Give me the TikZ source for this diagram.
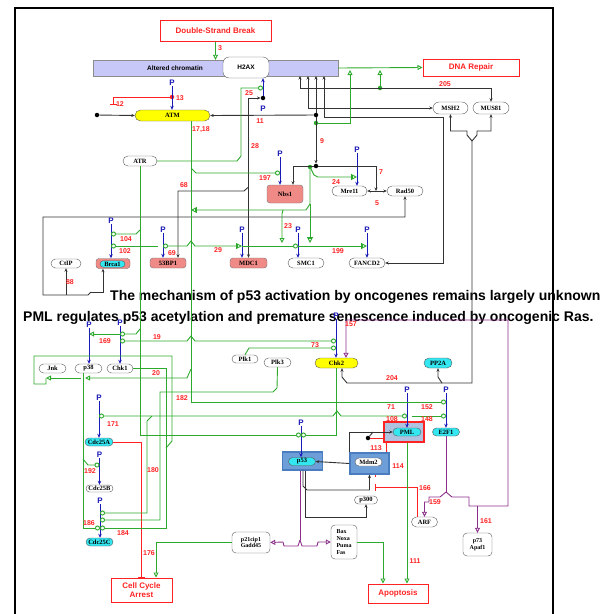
\documentclass[tikz,border=0pt]{standalone}
\usepackage{fontspec}
\setmainfont{Liberation Serif}
\setsansfont{Liberation Sans}
\usetikzlibrary{arrows.meta, shapes.misc, backgrounds}

\definecolor{pgreen}{HTML}{2DAA2D}
\definecolor{pred}{HTML}{FF2222}
\definecolor{pblue}{HTML}{1A1AB8}
\definecolor{pplum}{HTML}{8A2E8A}
\definecolor{ppink}{HTML}{F08A86}
\definecolor{pcyan}{HTML}{33E6F0}
\definecolor{pyellow}{HTML}{FFFF00}
\definecolor{plav}{HTML}{C8C8F8}
\definecolor{pbox}{HTML}{6E9ED8}
\definecolor{pboxd}{HTML}{4A7CC0}
\definecolor{pmlfill}{HTML}{AFC3E0}

\begin{document}
\begin{tikzpicture}[x=1pt, y=-1pt,
  mol/.style={rounded rectangle, draw=black!65, fill=white, inner sep=0pt, minimum height=10pt, font=\fontsize{6.5}{7.5}\selectfont\bfseries},
  molc/.style={mol, fill=pcyan},
  moly/.style={mol, fill=pyellow},
  molp/.style={draw=black!55, fill=ppink, rounded corners=3pt, inner sep=0pt, minimum height=10pt, font=\fontsize{6.5}{7.5}\selectfont\bfseries},
  molr/.style={draw=black!65, fill=white, rounded corners=4pt, inner sep=0pt, align=center, font=\fontsize{6}{6.8}\selectfont\bfseries},
  grp/.style={draw=pboxd, fill=pbox, line width=1.2pt, inner sep=0pt},
  outbox/.style={draw=pred, line width=1pt, text=pred, align=center, inner sep=0pt, font=\sffamily\bfseries\fontsize{8}{9.5}\selectfont},
  caption/.style={inner sep=0pt, anchor=west, font=\sffamily\bfseries\fontsize{14}{16}\selectfont},
  num/.style={text=pred, inner sep=0pt, font=\sffamily\bfseries\fontsize{7}{8}\selectfont},
  plab/.style={text=pblue, inner sep=0.5pt, font=\sffamily\bfseries\fontsize{8}{9}\selectfont},
  bdot/.style={circle, fill=black, inner sep=0pt, minimum size=4.5pt},
  gdot/.style={bdot, fill=pgreen},
  rdot/.style={bdot, fill=pred},
  bline/.style={draw=black!80, line width=0.9pt},
  barr/.style={bline, -{Stealth[length=3.5pt,width=3pt]}},
  bboth/.style={bline, {Stealth[length=3.5pt,width=3pt]}-{Stealth[length=3.5pt,width=3pt]}},
  gline/.style={draw=pgreen, line width=0.9pt},
  gtri/.style={gline, -{Triangle[open,length=5pt,width=5pt]}},
  gbt/.style={gline, -{Bar[width=6pt] Triangle[open,length=5pt,width=5pt]}},
  gcirc/.style={gline, -{Circle[open,length=5pt]}},
  gcc/.style={gline, {Circle[open,length=5pt]}-{Circle[open,length=5pt]}},
  rline/.style={draw=pred, line width=0.9pt},
  rinh/.style={rline, -{Bar[width=7pt]}},
  parr/.style={draw=pblue, line width=1pt, -{Stealth[length=4pt,width=3.5pt]}},
  pline/.style={draw=pplum, line width=0.9pt},
  ptri/.style={pline, -{Triangle[open,length=5pt,width=5pt]}}
]
\useasboundingbox (0,0) rectangle (600,614);
\draw[line width=2pt] (15,614) -- (15,8) -- (553,8) -- (553,614);

% captions
\node[caption] (capa) at (110,297) {The mechanism of p53 activation by oncogenes remains largely unknown};
\node[caption] (capb) at (23,318) {PML regulates p53 acetylation and premature senescence induced by oncogenic Ras.};

% chromatin and outcomes
\node[outbox, minimum width=111pt, minimum height=21pt] (dsb) at (215.5,30.5) {Double-Strand Break};
\node[draw=black!45, fill=plav, minimum width=245pt, minimum height=16pt, inner sep=0pt] (chrom) at (215.5,68) {};
\node[inner sep=0pt, font=\sffamily\bfseries\fontsize{6.5}{7.5}\selectfont] (chromtxt) at (175,68) {Altered chromatin};
\node[draw=black!65, fill=white, rounded corners=6pt, minimum width=46pt, minimum height=21pt, inner sep=0pt, font=\sffamily\bfseries\fontsize{6.5}{7.5}\selectfont] (h2ax) at (246,67.5) {H2AX};
\node[outbox, minimum width=96pt, minimum height=17pt] (repair) at (471,67.5) {DNA Repair};
\node[outbox, minimum width=61pt, minimum height=24pt] (arrest) at (141.5,590) {Cell Cycle\\Arrest};
\node[outbox, minimum width=60pt, minimum height=19pt] (apopt) at (398,593.5) {Apoptosis};

% molecules
\node[moly, minimum width=75pt, minimum height=11pt] (atm) at (172.5,115.5) {ATM};
\node[mol, minimum width=35pt, minimum height=12pt] (msh2) at (450.5,108) {MSH2};
\node[mol, minimum width=36pt, minimum height=12pt] (mus81) at (491,108) {MUS81};
\node[mol, minimum width=34pt] (atr) at (140,161) {ATR};
\node[molp, minimum width=36pt, minimum height=18pt] (nbs1) at (285,194) {Nbs1};
\node[mol, minimum width=35pt] (mre11) at (349.5,191) {Mre11};
\node[mol, minimum width=36pt] (rad50) at (405,191) {Rad50};
\node[mol, minimum width=30pt, minimum height=9pt] (ctip) at (66,263.5) {CtIP};
\node[molp, minimum width=34pt] (brca1) at (113,263.5) {};
\node[molc, minimum width=25pt, minimum height=6.5pt] (brcain) at (112.5,264) {Brca1};
\node[molp, minimum width=36pt] (bpone) at (168,263) {53BP1};
\node[molp, minimum width=37pt] (mdc1) at (248.5,263) {MDC1};
\node[mol, minimum width=36pt] (smc1) at (306,263) {SMC1};
\node[mol, minimum width=36pt] (fancd2) at (367,263) {FANCD2};
\node[mol, minimum width=27pt, minimum height=9pt] (jnk) at (52.5,368.5) {Jnk};
\node[mol, minimum width=27pt, minimum height=9pt] (p38) at (88.5,368.5) {p38};
\node[mol, minimum width=26pt, minimum height=9pt] (chk1) at (120,368.5) {Chk1};
\node[mol, minimum width=26pt, minimum height=8pt] (plk1) at (245,359) {Plk1};
\node[mol, minimum width=27pt, minimum height=9pt] (plk3) at (277.5,362.5) {Plk3};
\node[moly, minimum width=43pt] (chk2) at (336.5,363) {Chk2};
\node[molc, minimum width=28pt] (pp2a) at (438,363) {PP2A};
\node[molc, minimum width=28pt, minimum height=8pt] (cdc25a) at (99,442) {Cdc25A};
\node[mol, minimum width=27pt, minimum height=7pt] (cdc25b) at (99.5,488.5) {Cdc25B};
\node[molc, minimum width=27pt, minimum height=8pt] (cdc25c) at (99.5,542) {Cdc25C};
\node[grp, minimum width=40pt, minimum height=18pt] (p53box) at (302.5,461) {};
\node[molc, minimum width=27pt, minimum height=8pt] (p53) at (302,461.5) {p53};
\node[grp, minimum width=39pt, minimum height=21pt] (mdm2box) at (369.5,463.5) {};
\node[mol, minimum width=27pt, minimum height=8pt] (mdm2) at (368.5,462) {Mdm2};
\node[draw=pred, line width=1.2pt, fill=pmlfill, minimum width=40pt, minimum height=20pt, inner sep=0pt] (pmlbox) at (404,432) {};
\node[molc, minimum width=28pt, minimum height=8pt] (pml) at (407,432) {PML};
\node[molc, minimum width=27pt, minimum height=8pt] (e2f1) at (446,432) {E2F1};
\node[mol, minimum width=23pt, minimum height=8pt] (p300) at (366,500) {p300};
\node[mol, minimum width=26pt] (arf) at (424.5,522) {ARF};
\node[molr, minimum width=29pt, minimum height=23pt] (p73) at (477.5,544.5) {p73\\Apaf1};
\node[molr, minimum width=38pt, minimum height=21pt] (p21) at (251,542.5) {p21cip1\\Gadd45};
\node[molr, minimum width=26pt, minimum height=34pt, align=left] (bax) at (344,542) {Bax\\Noxa\\Puma\\Fas};

% junctions
\coordinate (c300) at (300,76);
\coordinate (c308) at (308,76);
\coordinate (c316) at (316,76);
\coordinate (c324) at (324,76);
\node[bdot] (j115) at (316,115) {};
\node[bdot] (jatm) at (97,115) {};
\node[bdot] (jh2) at (263,98) {};
\node[bdot] (j166) at (316,166) {};
\node[gdot] (g123) at (316,123) {};
\node[gdot] (g88) at (380,88) {};
\node[gdot] (g167) at (310,167) {};
\node[rdot] (j13) at (172,97) {};
\node[bdot] (jml) at (368,438) {};
\coordinate (fork) at (472,141);
\coordinate (ef) at (446,492);
\coordinate (pf) at (300,540);
\coordinate (j5) at (376,191);
\coordinate (j68) at (248.5,187);
\coordinate (j88) at (91,292);
\coordinate (j88b) at (66,295);
\coordinate (rp1) at (350,70);
\coordinate (rp2) at (380,70);
\coordinate (h2c) at (263,88);

% phosphorylation
\node[plab] (pAtm) at (172,83) {P};
\node[plab] (pH2) at (263,109) {P};
\node[plab] (pNbs) at (280,154) {P};
\node[plab] (pMre) at (357,150) {P};
\node[plab] (pBrca) at (111,221) {P};
\node[plab] (pBp) at (163,230) {P};
\node[plab] (pMdc) at (242,230) {P};
\node[plab] (pSmc) at (298,230) {P};
\node[plab] (pFan) at (367,230) {P};
\node[plab] (pP38) at (89,325) {P};
\node[plab] (pChkA) at (120,323) {P};
\node[plab] (pChkB) at (336,316) {P};
\node[plab] (pCdcA) at (99,398) {P};
\node[plab] (pCdcB) at (99.5,455) {P};
\node[plab] (pCdcC) at (100,501) {P};
\node[plab] (pP53) at (301,423) {P};
\node[plab] (pPml) at (407,390) {P};
\node[plab] (pE2f) at (446,390) {P};
\draw[parr] (pAtm) -- (pAtm |- atm.north);
\draw[parr] (jh2) -- (jh2 |- h2ax.south);
\draw[parr] (pNbs) -- (pNbs |- nbs1.north);
\draw[parr] (pMre) -- (pMre |- mre11.north);
\draw[parr] (pBrca) -- (pBrca |- brca1.north);
\draw[parr] (pBp) -- (pBp |- bpone.north);
\draw[parr] (pMdc) -- (pMdc |- mdc1.north);
\draw[parr] (pSmc) -- (pSmc |- smc1.north);
\draw[parr] (pFan) -- (pFan |- fancd2.north);
\draw[parr] (pP38) -- (pP38 |- p38.north);
\draw[parr] (pChkA) -- (pChkA |- chk1.north);
\draw[parr] (pChkB) -- (pChkB |- chk2.north);
\draw[parr] (pCdcA) -- (pCdcA |- cdc25a.north);
\draw[parr] (pCdcB) -- (pCdcB |- cdc25b.north);
\draw[parr] (pCdcC) -- (pCdcC |- cdc25c.north);
\draw[parr] (pP53) -- (pP53 |- p53.north);
\draw[parr] (pPml) -- (pPml |- pml.north);
\draw[parr] (pE2f) -- (pE2f |- e2f1.north);

% black links
\draw[bboth] (c300) -- (300,88) -| (mus81.north);
\draw[bboth] (c308) |- (msh2.west);
\draw[barr] (j115) -- (c316);
\draw[barr] (j115) -- (atm.east);
\draw[barr] (jatm) -- (atm.west);
\draw[barr] (j115) -- (j166);
\draw[bboth] (c324) -- (324,117) -- (443,117) |- (fancd2.east);
\draw[barr] (fork) -- (467,135) -- (467,131) -| (msh2.south);
\draw[barr] (fork) -- (477,135) -- (477,131) -| (mus81.south);
\draw[barr] (fork) -- (472,383) -- (442,383) -- (438,377) -- (pp2a.south);
\draw[barr] (442,383) -- (347,383) -- (342,377) -- ([xshift=5.5pt]chk2.south);
\draw[bboth] (mdc1.north) |- (jh2);
\draw[barr] (j68) -- (244,191) -| ([xshift=10pt]bpone.north);
\draw[barr] (j166) -| ([xshift=8pt]nbs1.north);
\draw[barr] (j166) -| (j5);
\draw[bboth] (mre11.east) -- (rad50.west);
\draw[barr] (j88) -- (88,295) -- (43,295) -- (43,217) -| (rad50.south);
\draw[barr] (j88) -| ([xshift=-10pt]brca1.south);
\draw[barr] (j88b) -- (j88b |- ctip.south);
\draw[barr] (mdm2box.west) -- (p53.east);
\draw[barr] (mdm2box.north west) |- (pml.west);
\draw[bline] (jml) -- ++(5,-6);
\draw[barr] ([xshift=0.5pt]p53box.south) -- (303,486) -- (307,490) -| (mdm2box.south);
\draw[barr] ([xshift=2.5pt]p53box.south) -- (305,517) -| (p300.south);

% red links
\draw[rinh] (j13) -| (113,105);
\draw[rline] (jml) -- (pmlbox.west |- jml);
\begin{scope}[on background layer]
\draw[rinh] ([xshift=3pt]pmlbox.south west) -- (387,473) -- (375,473);
\end{scope}
\draw[rinh] ([xshift=-7.5pt]arf.north) |- (375,487);
\draw[rinh] (cdc25a.east) -| (arrest.north);

% green links
\draw[gtri] (dsb.south) -- (dsb.south |- chrom.north);
\draw[gtri] (chrom.east) -- (repair.west);
\draw[gtri] (g123) -- (350,123) -- (rp1);
\draw[gtri] (g88) -- (rp2);
\draw[gcirc] (atr.east) -- (237,161) -- (241,156) -- (241,88) -- (h2c);
\draw[gcirc] ([xshift=18.5pt]atm.south) -- (191,402) -- (446,402);
\draw[gcirc] (191,168) -- (196,173) -- (280,173);
\draw[gtri] (191,369) -- (187,378) -- (85,378);
\draw[gtri] (81,378) -- (46,378);
\draw[gcirc] (atr.south) -- (140,435) -- (301,435);
\draw[gcirc] (140,230) -- (136,234) -- (111,234);
\draw[gcirc] (140,329) -- (136,334) -- (120,334);
\draw[gcirc] (158,246) -- (111,246);
\draw[gline, {Circle[open,length=5pt]}-{Bar[width=6pt] Triangle[open,length=5pt,width=5pt]}] (163,246) -- (187,246) -- (191,241) -- (195,246) -- (242,246);
\draw[gcirc] (242,246) -- (298,246);
\draw[gbt] (298,246) -- (367,246);
\draw[gline, -{Bar[width=6pt] Triangle[open,length=5pt,width=5pt]}] (g167) -- (310,204) -- (306,210) -- (191,210);
\draw[gtri] (283,210) -- (282,214) -- (282,243);
\draw[gbt] (310,204) -- (310,243);
\draw[gbt] (g167) -- (314,175) -- (318,177) -- (357,177);
\draw[gcc] (120,341) -- (187,341) -- (191,336) -- (195,341) -- (336,341);
\draw[gcirc] (plk1.north) -- (249,348) -- (336,348);
\draw[gtri] (120,334) -- (89,334);
\draw[gline] (46,378) -- (46,384) -- (34,384) -- (34,356) -- (172,356) -- (172,441) -- (166,448);
\draw[gcirc] (chk1.east) -| (166,528) -- (100,528);
\draw[gcirc] ([xshift=-5.5pt]p38.south) -- (83,528) -- (100,528);
\draw[gcirc] (83,459) -- (88,465) -- (99.5,465);
\draw[gcc] (99,416) -- (333,416) -- (337,411) -- (341,416) -- (407,416);
\draw[gcirc] (152,416) -- (147,421) -- (147,513) -- (100,513);
\draw[gcirc] (plk3.south) -- (277,388) -- (273,392) -- (160,392) -- (160,520) -- (100,520);
\draw[gcirc] (412,416) -- (446,416);
\draw[gcirc] (chk2.south) -- (336.5,435) -- (301,435);
\draw[gtri] (bax.east) -| ([xshift=-15pt]apopt.north);
\draw[gtri] (pml.south |- pmlbox.south) -- (pml.south |- apopt.north);
\draw[gtri] (p21.west) -| ([xshift=14.5pt]arrest.north);

% purple links
\draw[pline] ([xshift=-2.5pt]p53box.south) -- (pf);
\draw[ptri] (pf) -- (298,546) -- (284,546) -- (283,542) -- (p21.east);
\draw[ptri] (pf) -- (302,546) -- (317,546) -- (318,542) -- (bax.west);
\draw[pline] (e2f1.south) -- (ef);
\draw[ptri] (ef) -- (440,497) -- (429,497) -- (429,502) -- (424.5,502) -- (arf.north);
\draw[ptri] (ef) -- (452,497) -- (469,497) -- (469,506) -- (508,506) -- (508,320) -- (346,320) -- ([xshift=9.5pt]chk2.north);
\draw[ptri] (477.5,506) -- (p73.north);

% reaction numbers
\node[num] (n3) at (220,48) {3};
\node[num] (n13) at (180,98) {13};
\node[num] (n12) at (120,104) {12};
\node[num] (n25) at (249,93) {25};
\node[num] (n11) at (260,121) {11};
\node[num] (n17) at (201,130) {17,18};
\node[num] (n28) at (255,146) {28};
\node[num] (n9) at (322,141) {9};
\node[num] (n205) at (445,84) {205};
\node[num] (n197) at (265,178) {197};
\node[num] (n7) at (381,172) {7};
\node[num] (n24) at (336,182) {24};
\node[num] (n5) at (377,203) {5};
\node[num] (n68) at (184,185) {68};
\node[num] (n23) at (288,226) {23};
\node[num] (n104) at (126,239) {104};
\node[num] (n102) at (125,251) {102};
\node[num] (n69) at (172,253) {69};
\node[num] (n29) at (218,250) {29};
\node[num] (n199) at (338,251) {199};
\node[num] (n88) at (70,282) {88};
\node[num] (n157) at (351,324) {157};
\node[num] (n169) at (105,341) {169};
\node[num] (n19) at (157,337) {19};
\node[num] (n73) at (315,345) {73};
\node[num] (n20) at (156,373) {20};
\node[num] (n182) at (182,398) {182};
\node[num] (n204) at (392,378) {204};
\node[num] (n171) at (113,424) {171};
\node[num] (n71) at (391,407) {71};
\node[num] (n152) at (427,407) {152};
\node[num] (n108) at (392,419) {108};
\node[num] (n148) at (427,419) {148};
\node[num] (n113) at (376,448) {113};
\node[num] (n114) at (398,466) {114};
\node[num] (n166) at (425,488) {166};
\node[num] (n159) at (435,502) {159};
\node[num] (n161) at (486,521) {161};
\node[num] (n192) at (90,471) {192};
\node[num] (n180) at (153,470) {180};
\node[num] (n186) at (89,523) {186};
\node[num] (n184) at (123,533) {184};
\node[num] (n176) at (149,553) {176};
\node[num] (n111) at (415,561) {111};
\end{tikzpicture}
\end{document}
